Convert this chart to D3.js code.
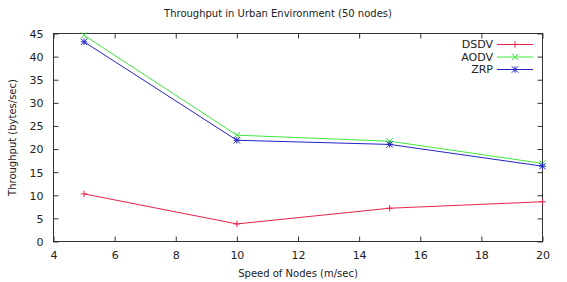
<!DOCTYPE html>
<html><head><meta charset="utf-8">
<script src="https://cdn.jsdelivr.net/npm/d3@7"></script>
<style>body{margin:0;background:#fff}svg{display:block}text{font-family:"DejaVu Sans",sans-serif;fill:#222}</style>
</head><body><svg id="c" width="567" height="282"></svg>
<script>
const speeds = [5, 10, 15, 20];
const dsdv = [10.3, 3.8, 7.2, 8.6];
const aodv = [44.6, 23.0, 21.7, 16.9];
const zrp = [43.2, 21.9, 21.0, 16.3];
const xTicks = [4, 6, 8, 10, 12, 14, 16, 18, 20];
const yTicks = [0, 5, 10, 15, 20, 25, 30, 35, 40, 45];
const seriesNames = ["DSDV", "AODV", "ZRP"];
const seriesColors = ["#e5234c", "#3fe83f", "#2323c8"];
const seriesMarkers = ["plus", "cross", "star"];

const svg = d3.select("#c");
const L = 53.5, R = 542.5, T = 33.5, B = 241.5;
const x = d3.scaleLinear().domain([4, 20]).range([L, R]);
const y = d3.scaleLinear().domain([0, 45]).range([B, T]);
const axisColor = "#333";
const fs = "10px";

// frame
svg.append("rect").attr("x", L).attr("y", T).attr("width", R - L).attr("height", B - T)
  .attr("fill", "none").attr("stroke", axisColor).attr("stroke-width", 1);

// axes via d3 axis (inward ticks)
const gB = svg.append("g").attr("transform", `translate(0,${B})`)
  .call(d3.axisBottom(x).tickValues(xTicks).tickSizeInner(-5).tickSizeOuter(0).tickPadding(10));
const gT = svg.append("g").attr("transform", `translate(0,${T})`)
  .call(d3.axisTop(x).tickValues(xTicks).tickSizeInner(-5).tickSizeOuter(0).tickFormat(""));
const gL = svg.append("g").attr("transform", `translate(${L},0)`)
  .call(d3.axisLeft(y).tickValues(yTicks).tickSizeInner(-5).tickSizeOuter(0).tickPadding(10));
const gR = svg.append("g").attr("transform", `translate(${R},0)`)
  .call(d3.axisRight(y).tickValues(yTicks).tickSizeInner(-5).tickSizeOuter(0).tickFormat(""));
[gB, gT, gL, gR].forEach(g => {
  g.select(".domain").remove();
  g.selectAll("line").attr("stroke", axisColor);
  g.selectAll("text").style("font-family", '"DejaVu Sans",sans-serif').style("font-size", "11px").attr("fill", "#222");
});
gL.selectAll("text").attr("dy", "0.35em");

// titles
svg.append("text").attr("x", 278).attr("y", 17).attr("text-anchor", "middle")
  .style("font-size", fs).text("Throughput in Urban Environment (50 nodes)");
svg.append("text").attr("x", 298).attr("y", 277).attr("text-anchor", "middle")
  .style("font-size", fs).text("Speed of Nodes (m/sec)");
svg.append("text").attr("transform", `translate(16,${(T + B) / 2}) rotate(-90)`).attr("text-anchor", "middle")
  .style("font-size", fs).text("Throughput (bytes/sec)");

function marker(g, type, cx, cy, color) {
  const s = 3.2;
  const p = d3.path();
  if (type === "plus" || type === "star") {
    p.moveTo(cx - s, cy); p.lineTo(cx + s, cy);
    p.moveTo(cx, cy - s); p.lineTo(cx, cy + s);
  }
  if (type === "cross" || type === "star") {
    p.moveTo(cx - s, cy - s); p.lineTo(cx + s, cy + s);
    p.moveTo(cx - s, cy + s); p.lineTo(cx + s, cy - s);
  }
  g.append("path").attr("d", p.toString()).attr("stroke", color).attr("stroke-width", 1).attr("fill", "none");
}

const all = [dsdv, aodv, zrp];
const line = d3.line().x(d => x(d[0])).y(d => y(d[1]));
all.forEach((vals, i) => {
  const pts = speeds.map((s, j) => [s, vals[j]]);
  const g = svg.append("g");
  g.append("path").attr("d", line(pts)).attr("fill", "none")
    .attr("stroke", seriesColors[i]).attr("stroke-width", 1);
  pts.forEach(p => marker(g, seriesMarkers[i], x(p[0]), y(p[1]), seriesColors[i]));
});

// legend
seriesNames.forEach((n, i) => {
  const ly = 44.5 + i * 12.5;
  svg.append("text").attr("x", 493).attr("y", ly).attr("dy", "0.35em").attr("text-anchor", "end")
    .style("font-size", "11px").text(n);
  svg.append("line").attr("x1", 497).attr("x2", 533).attr("y1", ly).attr("y2", ly)
    .attr("stroke", seriesColors[i]).attr("stroke-width", 1);
  marker(svg, seriesMarkers[i], 515, ly, seriesColors[i]);
});
</script></body></html>
